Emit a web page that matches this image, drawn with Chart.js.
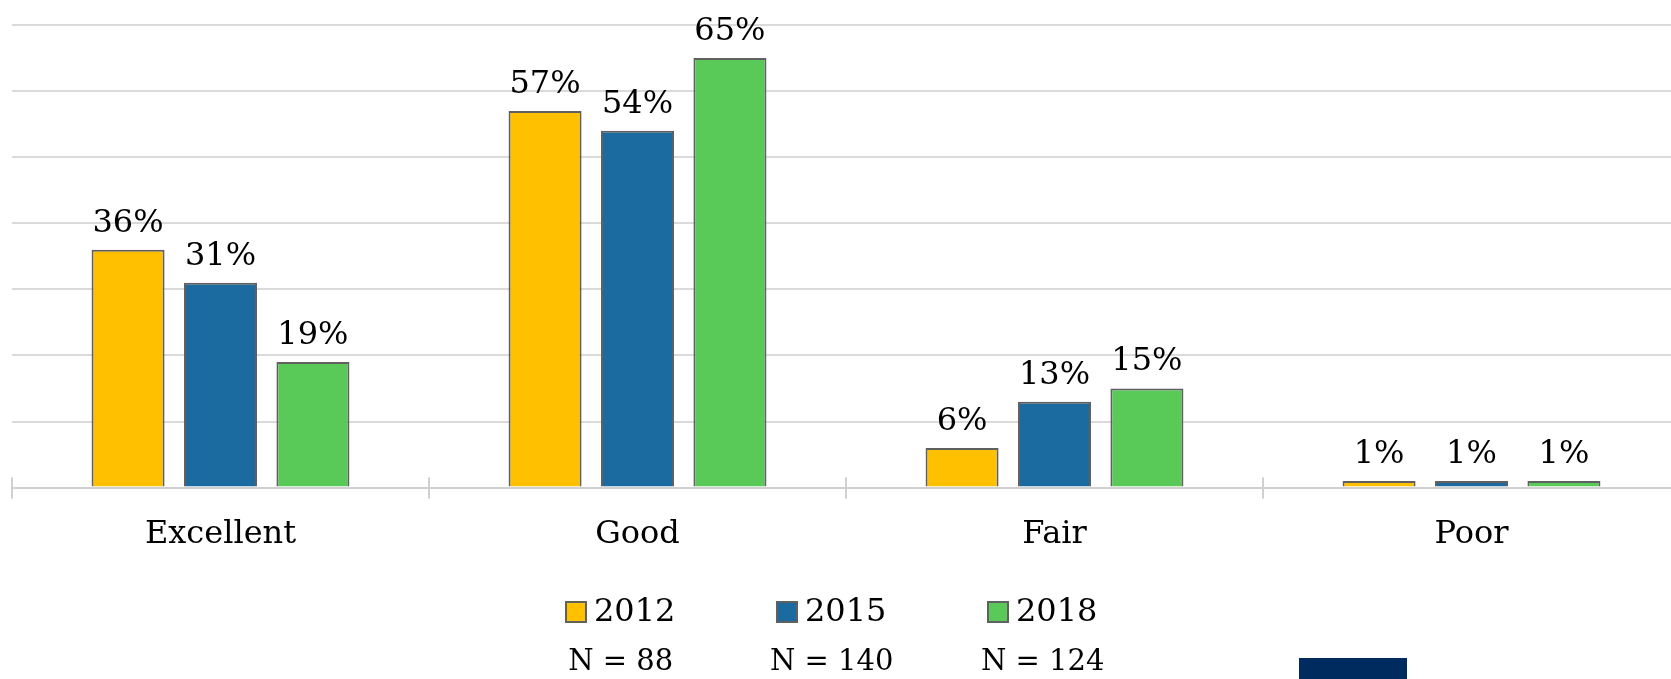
<!DOCTYPE html>
<html><head><meta charset="utf-8">
<script src="https://cdn.jsdelivr.net/npm/chart.js@4"></script>
<style>
html,body{margin:0;padding:0;background:#fff;overflow:hidden;width:1671px;height:679px}
#wrap{position:absolute;left:0;top:0;width:1680px;height:679px}
#logo{position:absolute;left:1299px;top:658px;width:108px;height:30px;background:#002b5e}
</style></head><body>
<div id="wrap"><canvas id="c"></canvas></div>
<div id="logo"></div>
<script>
const categories = ['Excellent', 'Good', 'Fair', 'Poor'];
const years = ['2012', '2015', '2018'];
const sampleSizes = ['N = 88', 'N = 140', 'N = 124'];
const values2012 = [36, 57, 6, 1];
const values2015 = [31, 54, 13, 1];
const values2018 = [19, 65, 15, 1];
const colors = ['#FFC000', '#1B6AA0', '#59CA58'];
const yMax = 70, yStep = 10;

const FONT = "'DejaVu Serif', serif";

const dataLabels = {
  id: 'dataLabels',
  afterDatasetsDraw(chart) {
    const ctx = chart.ctx;
    ctx.save();
    ctx.font = '32px ' + FONT;
    ctx.fillStyle = '#000';
    ctx.textAlign = 'center';
    ctx.textBaseline = 'alphabetic';
    chart.data.datasets.forEach((ds, di) => {
      chart.getDatasetMeta(di).data.forEach((bar, i) => {
        ctx.fillText(ds.data[i] + '%', bar.x, bar.y - 18);
      });
    });
    ctx.restore();
  }
};

const crossTicks = {
  id: 'crossTicks',
  afterDraw(chart) {
    const xs = chart.scales.x, ctx = chart.ctx;
    const pitch = xs.getPixelForValue(1) - xs.getPixelForValue(0);
    const yb = chart.chartArea.bottom;
    ctx.save();
    ctx.strokeStyle = '#d0d0d0';
    ctx.lineWidth = 2;
    for (let i = 0; i <= categories.length; i++) {
      const x = Math.round(xs.getPixelForValue(i) - pitch / 2);
      ctx.beginPath();
      ctx.moveTo(x, yb - 10);
      ctx.lineTo(x, yb);
      ctx.stroke();
    }
    ctx.restore();
  }
};

const customLegend = {
  id: 'customLegend',
  afterDraw(chart, args, opts) {
    const ctx = chart.ctx;
    ctx.save();
    chart.data.datasets.forEach((ds, i) => {
      const bx = opts.left + i * opts.pitch;
      ctx.fillStyle = ds.backgroundColor;
      ctx.strokeStyle = '#606060';
      ctx.lineWidth = 2;
      ctx.fillRect(bx, opts.boxTop, 20, 20);
      ctx.strokeRect(bx, opts.boxTop, 20, 20);
      ctx.fillStyle = '#000';
      ctx.textAlign = 'left';
      ctx.textBaseline = 'middle';
      ctx.font = '32px ' + FONT;
      const tx = bx + 28;
      ctx.fillText(ds.label, tx, opts.boxTop + 11);
      const w = ctx.measureText(ds.label).width;
      const cx = (bx + tx + w) / 2;
      ctx.textAlign = 'center';
      ctx.font = '29px ' + FONT;
      ctx.fillText(sampleSizes[i], cx, opts.nY);
    });
    ctx.restore();
  }
};

new Chart(document.getElementById('c'), {
  type: 'bar',
  data: {
    labels: categories,
    datasets: years.map((y, i) => ({
      label: y,
      data: [values2012, values2015, values2018][i],
      backgroundColor: colors[i],
      borderColor: '#606060',
      borderWidth: 2,
      categoryPercentage: 0.665,
      barPercentage: 0.79
    }))
  },
  options: {
    responsive: true,
    maintainAspectRatio: false,
    animation: false,
    layout: { padding: { left: 12, right: 0, top: 25, bottom: 108 } },
    plugins: {
      legend: { display: false },
      tooltip: { enabled: false },
      customLegend: { left: 566, pitch: 211, boxTop: 602, nY: 662 }
    },
    scales: {
      x: {
        grid: { drawOnChartArea: false, drawTicks: true, tickLength: 11, color: '#d0d0d0', lineWidth: 2, offset: true },
        border: { display: true, color: '#d0d0d0', width: 2 },
        ticks: { font: { family: FONT, size: 32 }, color: '#000', padding: 17 }
      },
      y: {
        min: 0, max: yMax,
        ticks: { display: false, stepSize: yStep },
        grid: { color: '#dadada', lineWidth: 2, drawTicks: false },
        border: { display: false }
      }
    }
  },
  plugins: [dataLabels, crossTicks, customLegend]
});
</script>
</body></html>
